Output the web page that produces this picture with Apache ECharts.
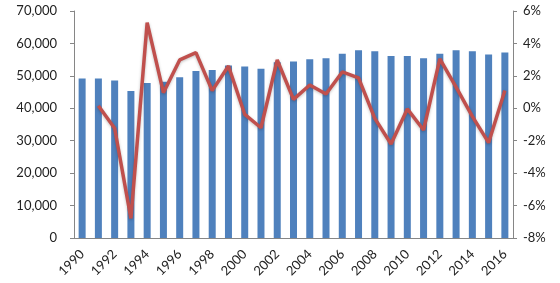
<!DOCTYPE html>
<html><head><meta charset="utf-8">
<script src="https://cdn.jsdelivr.net/npm/echarts@6/dist/echarts.min.js"></script>
<style>html,body{margin:0;padding:0;background:#fff}#c{width:560px;height:283px}</style>
</head><body><div id="c"></div>
<script>
const years = ['1990','1991','1992','1993','1994','1995','1996','1997','1998','1999','2000','2001','2002','2003','2004','2005','2006','2007','2008','2009','2010','2011','2012','2013','2014','2015','2016'];
const totals = [49200,49200,48600,45300,47800,48200,49600,51500,51800,53200,52900,52200,54200,54400,55100,55400,56800,57900,57600,56100,56100,55400,56800,57900,57600,56600,57200];
const pctChange = [null,0.16,-1.23,-6.79,5.28,0.96,2.98,3.43,1.09,2.61,-0.37,-1.2,2.98,0.55,1.44,0.88,2.24,1.87,-0.62,-2.2,-0.04,-1.34,3.05,1.3,-0.5,-2.12,1.1];
const leftTicks = {min:0, max:70000, interval:10000};
const rightTicks = {min:-8, max:6, interval:2};

const font = 'Lato, "Open Sans", sans-serif';
const axisColor = '#868686';
const chart = echarts.init(document.getElementById('c'));
chart.setOption({
  animation:false,
  grid:{left:74, right:47, top:11, bottom:45},
  xAxis:{
    type:'category', data:years,
    axisLine:{lineStyle:{color:axisColor}},
    axisTick:{interval:1, length:4, lineStyle:{color:axisColor}},
    axisLabel:{interval:1, rotate:45, color:'#222', fontSize:13, fontFamily:font, margin:14}
  },
  yAxis:[
    {type:'value', min:leftTicks.min, max:leftTicks.max, interval:leftTicks.interval,
     axisLine:{show:true, lineStyle:{color:axisColor}},
     axisTick:{show:true, length:4, lineStyle:{color:axisColor}},
     splitLine:{show:false},
     axisLabel:{color:'#222', fontSize:13, fontFamily:font, margin:17,
       formatter:v=>v.toLocaleString('en-US')}},
    {type:'value', min:rightTicks.min, max:rightTicks.max, interval:rightTicks.interval,
     axisLine:{show:true, lineStyle:{color:axisColor}},
     axisTick:{show:true, length:4, lineStyle:{color:axisColor}},
     splitLine:{show:false},
     axisLabel:{color:'#222', fontSize:13, fontFamily:font, margin:10, formatter:'{value}%'}}
  ],
  series:[
    {type:'bar', data:totals, yAxisIndex:0, barWidth:7,
     itemStyle:{color:'#4F81BD'}},
    {type:'line', data:pctChange, yAxisIndex:1, symbol:'none', connectNulls:false,
     lineStyle:{color:'#C0504D', width:3.5, shadowColor:'rgba(0,0,0,0.25)', shadowBlur:3, shadowOffsetY:1}}
  ]
});
</script></body></html>
